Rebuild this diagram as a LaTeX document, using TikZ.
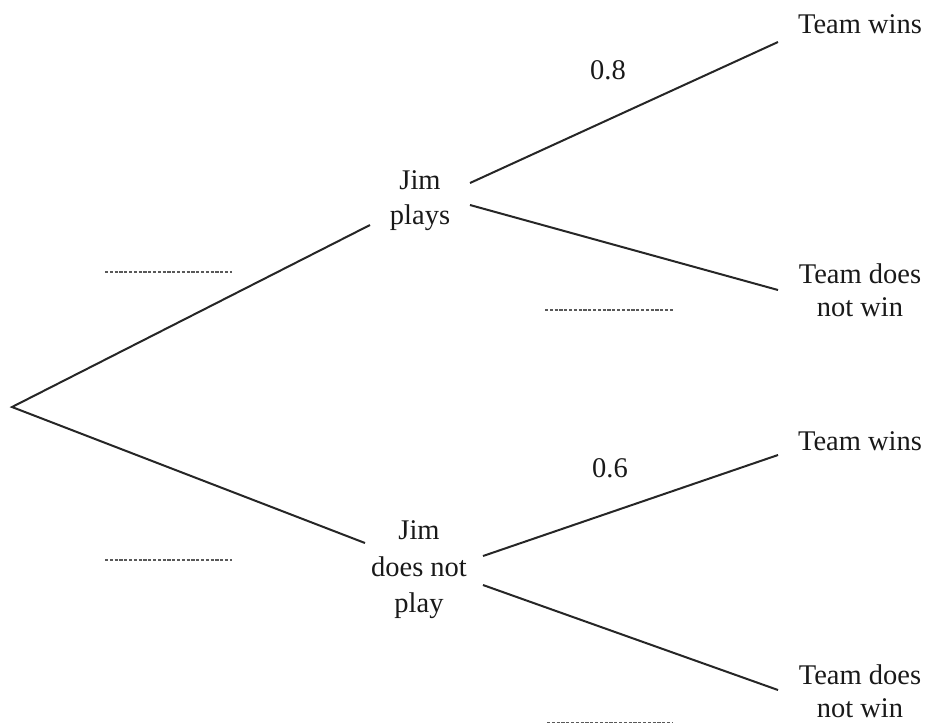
\documentclass[tikz,border=0pt]{standalone}
\usepackage{fontspec}
\setmainfont{Liberation Serif}
\begin{document}
\begin{tikzpicture}[x=1pt,y=-1pt,
  branch/.style={draw=black!85,line width=2pt},
  blank/.style={draw=black!65,line width=1.3pt,dash pattern=on 3.2pt off 1.6pt},
  lbl/.style={font=\fontsize{28.5}{33}\selectfont,align=center,inner sep=0pt,text=black!90},
  event/.style={lbl,font=\fontsize{28.5}{36.5}\selectfont}]
\useasboundingbox (0,0) rectangle (925,724);
% root and branch ends
\coordinate (root) at (12,407);
\coordinate (jpin) at (370,225);
\coordinate (jnin) at (365,543);
\coordinate (jpa) at (470,183);
\coordinate (jpb) at (470,205);
\coordinate (jna) at (483,556);
\coordinate (jnb) at (483,585);
\coordinate (w1) at (778,42);
\coordinate (l1) at (778,290);
\coordinate (w2) at (778,455);
\coordinate (l2) at (778,690);
% outcome labels
\node[event,font=\fontsize{28.5}{35}\selectfont] (jp) at (420,201) {Jim\\plays};
\node[event] (jn) at (419,570) {Jim\\does not\\play};
\node[lbl] (tw1) at (860,24) {Team wins};
\node[lbl] (tl1) at (860,290) {Team does\\not win};
\node[lbl] (tw2) at (860,441) {Team wins};
\node[lbl] (tl2) at (860,691) {Team does\\not win};
\node[lbl] (p1) at (608,70) {0.8};
\node[lbl] (p2) at (610,468) {0.6};
% branches
\draw[branch] (jpin) -- (root) -- (jnin);
\draw[branch] (jpa) -- (w1);
\draw[branch] (jpb) -- (l1);
\draw[branch] (jna) -- (w2);
\draw[branch] (jnb) -- (l2);
% answer spaces
\coordinate (d1a) at (105,272); \coordinate (d1b) at (232,272);
\coordinate (d2a) at (545,310); \coordinate (d2b) at (673,310);
\coordinate (d3a) at (105,560); \coordinate (d3b) at (232,560);
\coordinate (d4a) at (547,722.5); \coordinate (d4b) at (673,722.5);
\draw[blank] (d1a) -- (d1b);
\draw[blank] (d2a) -- (d2b);
\draw[blank] (d3a) -- (d3b);
\draw[blank] (d4a) -- (d4b);
\end{tikzpicture}
\end{document}
